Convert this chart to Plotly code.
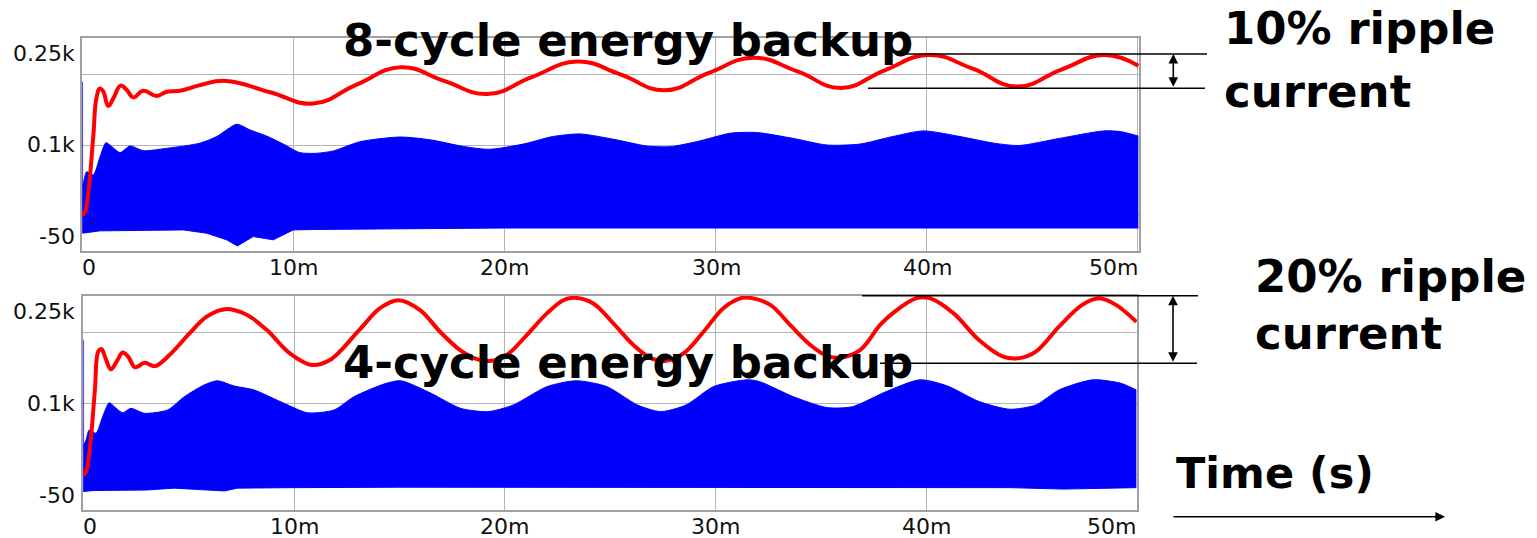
import plotly.graph_objects as go

W, H = 1537, 538

# ---------------- data (time in ms) ----------------
# Top panel: 8-cycle energy backup
top_red_t = [0, 0.13, 0.28, 0.52, 0.68, 0.84, 1.0, 1.23, 1.47, 1.82, 2.1, 2.42, 2.89, 3.53, 4.0, 4.63,
             5.58, 6.8, 8.9, 10.95, 13.0, 15.1, 17.15, 19.2, 21.3, 23.45, 25.5, 27.6, 29.7, 31.8,
             33.9, 35.95, 38.0, 40.1, 42.2, 44.3, 46.4, 48.45, 50.05]
top_red_v = [-49, -42, -2, 118, 202, 220, 213, 183, 199, 226, 217, 201, 215, 204, 213, 215,
             227, 236, 212, 188, 228, 265, 236, 208, 244, 277, 250, 216, 253, 285,
             256, 221, 258, 291, 262, 224, 260, 291, 268]

top_spike_v = [-87, 234]
top_blue_up_t = [0, 0.05, 0.21, 0.52, 0.84, 1.12, 1.39, 1.79, 2.26, 2.89, 4.0, 5.58, 6.37, 7.32,
                 7.95, 8.74, 9.53, 10.3, 11.1, 11.9, 13.16, 15.06, 16.5, 18.06, 19.3, 20.9, 22.3, 23.6,
                 25.2, 26.75, 27.85, 29.1, 30.7, 31.5, 32.1, 33.7, 35.3, 36.85, 38.4, 39.86, 41.6, 43.2,
                 44.4, 46.3, 48.4, 49.2, 50.05]
top_blue_up_v = [10, 19, 43.5, 36.5, 75, 105, 97, 84, 98, 88, 93, 104, 118, 144,
                 132, 119, 102, 84, 82.5, 87.5, 107, 117, 111, 97, 91, 102, 118, 123.5,
                 112, 98, 96.5, 107, 125, 127, 126, 114, 100, 102, 118, 130, 118, 104,
                 99, 114, 130, 128.5, 119]
top_blue_lo_t = [0, 0.84, 4.8, 5.9, 6.84, 7.35, 8.1, 9.05, 10.0, 11.1, 20, 30, 40, 50.05]
top_blue_lo_v = [-87, -82, -80, -87, -101, -114, -94, -101, -80, -79, -76, -76, -76, -76]

# Bottom panel: 4-cycle energy backup
bot_red_t = [0, 0.13, 0.32, 0.55, 0.71, 0.87, 1.03, 1.31, 1.58, 1.87,
             2.13, 2.45, 2.92, 3.4, 4.1, 5.05, 5.85, 6.72, 7.75, 8.7,
             9.8, 10.83, 11.7, 13.1, 14.08, 14.95, 15.98, 16.93, 17.88, 18.67,
             19.3, 20.1, 21.04, 22.0, 22.78, 23.34, 24.2, 25.15, 26.1, 26.9,
             27.6, 28.48, 29.43, 30.37, 31.17, 31.64, 32.6, 33.55, 34.5, 35.28,
             35.9, 36.86, 37.8, 38.4, 39.5, 40.2, 41.3, 42.5, 43.65, 44.4,
             45.2, 46.3, 47.4, 48.2, 49.0, 49.97]
bot_red_v = [-52, -45, 8, 128, 210, 215, 199, 172, 188.5, 208,
             199, 176.5, 186, 179, 203, 249, 284, 300, 288, 256,
             206, 181.5, 192, 256, 302, 319, 298, 252, 213, 194,
             190, 203, 245, 291, 319, 324, 312, 270, 224, 197,
             190, 206, 252, 302, 323, 324, 309, 266, 224, 201,
             197, 213, 266, 291, 323, 323, 291, 234.5, 199, 196,
             210, 263, 309, 323, 309, 273]

bot_spike_v = [-87, 234]
bot_blue_up_t = [0, 0.13, 0.28, 0.6, 0.92, 1.23, 1.47, 1.87, 2.26, 2.89, 4.0, 4.79, 5.73, 6.37,
                 7.15, 8.1, 9.53, 10.64, 11.9, 12.84, 14.27, 15.06, 16.5, 17.9, 19.2, 20.4, 22.0, 23.4,
                 24.85, 26.3, 27.4, 28.6, 29.9, 31.5, 32.1, 33.7, 35.3, 36.5, 38.1, 39.7, 41.0, 42.5,
                 43.97, 45.2, 46.3, 47.9, 49.2, 49.97]
bot_blue_up_v = [10, 22, 43.5, 36.5, 72, 101.5, 93, 80, 89.5, 79, 86, 114, 139, 148,
                 137, 128.5, 100, 80, 86, 114, 141, 148, 121.5, 89.5, 82.5, 96.5, 135.5, 148,
                 135.5, 96.5, 82.5, 96.5, 135.5, 150, 146, 114, 91, 93, 125, 150, 137, 104,
                 87.5, 96.5, 128.5, 150, 143, 128.5]
bot_blue_lo_t = [0, 0.5, 3, 4.3, 5.5, 6.7, 7.3, 8.6, 10, 15, 20, 25, 30, 35, 38, 40, 42, 44, 46.5, 47.5, 49.97]
bot_blue_lo_v = [-87, -85, -84, -80, -83, -86, -80, -79, -79, -78, -78, -78, -78, -79, -78, -79, -78,
                 -79, -82, -81, -79]

x_tick_vals = [0, 10, 20, 30, 40, 50]
x_tick_text = ["0", "10m", "20m", "30m", "40m", "50m"]
y_grid_vals = [250, 100, -50]
y_tick_text = ["0.25k", "0.1k", "-50"]

# ---------------- figure ----------------
RED = "#ff0000"
BLUE = "#0000ff"
GRID = "#b4b4b4"


def px(x):
    return x / W


def py(y):
    return 1 - y / H


fig = go.Figure()

panels = [
    ("x", "y", top_spike_v, top_blue_up_t, top_blue_up_v, top_blue_lo_t, top_blue_lo_v, top_red_t, top_red_v, 1.3),
    ("x2", "y2", bot_spike_v, bot_blue_up_t, bot_blue_up_v, bot_blue_lo_t, bot_blue_lo_v, bot_red_t, bot_red_v, 1.0),
]
for xa, ya, sv, ut, uv, lt, lv, rt, rv, sm in panels:
    # lower envelope of the high-frequency waveform
    fig.add_trace(go.Scatter(
        x=lt, y=lv, xaxis=xa, yaxis=ya, mode="lines",
        line=dict(color=BLUE, width=1), hoverinfo="skip", showlegend=False))
    # upper envelope, filled down to lower envelope
    fig.add_trace(go.Scatter(
        x=ut, y=uv, xaxis=xa, yaxis=ya, mode="lines", fill="tonexty", fillcolor=BLUE,
        line=dict(color=BLUE, width=1, shape="spline", smoothing=0.7),
        hoverinfo="skip", showlegend=False))
    # initial spike at t=0
    fig.add_trace(go.Scatter(
        x=[0, 0], y=sv, xaxis=xa, yaxis=ya, mode="lines",
        line=dict(color=BLUE, width=1.5), hoverinfo="skip", showlegend=False))
    # red current trace
    fig.add_trace(go.Scatter(
        x=rt, y=rv, xaxis=xa, yaxis=ya, mode="lines",
        line=dict(color=RED, width=4, shape="spline", smoothing=sm),
        showlegend=False))

axis_common = dict(showgrid=True, gridcolor=GRID, gridwidth=1, zeroline=False,
                   showline=True, linecolor="#a0a0a0", linewidth=1.5, mirror=True,
                   showticklabels=False, ticks="", automargin=False, fixedrange=True)

fig.update_layout(
    width=W, height=H,
    margin=dict(l=0, r=0, t=0, b=0),
    paper_bgcolor="white", plot_bgcolor="white",
    showlegend=False,
    xaxis=dict(domain=[px(82.3), px(1139)], range=[0, 50.08], tickvals=x_tick_vals,
               anchor="y", **axis_common),
    yaxis=dict(domain=[py(251), py(38.3)], range=[-124.7, 326.3], tickvals=y_grid_vals,
               anchor="x", **axis_common),
    xaxis2=dict(domain=[px(83.3), px(1137)], range=[0, 50.0], tickvals=x_tick_vals,
                anchor="y2", **axis_common),
    yaxis2=dict(domain=[py(510), py(296)], range=[-126.4, 327.9], tickvals=y_grid_vals,
                anchor="x2", **axis_common),
)

ann = []
tick_font = dict(family="DejaVu Sans", size=22, color="#111111")

# y tick labels (positions in pixels as drawn by the original tool)
for labels_y in ([53.3, 145, 236.7], [311.7, 403.3, 495]):
    for txt, yy in zip(y_tick_text, labels_y):
        ann.append(dict(x=px(77), y=py(yy), xref="paper", yref="paper", text=txt,
                        showarrow=False, xanchor="right", yanchor="middle", font=tick_font))

# x tick labels
for (x0, x1, ylab) in ((82.3, 1139, 267.5), (83.3, 1137, 526)):
    for v, txt in zip(x_tick_vals, x_tick_text):
        xp = x0 + (x1 - x0) * v / 50.0
        anchor = "center"
        if v == 0:
            anchor = "left"
            xp = x0 - 2
        elif v == 50:
            anchor = "right"
            xp = x1 + 1
        ann.append(dict(x=px(xp), y=py(ylab), xref="paper", yref="paper", text=txt,
                        showarrow=False, xanchor=anchor, yanchor="middle", font=tick_font))

big = dict(family="DejaVu Sans", size=45, color="black")
texts = [
    ("<b>8-cycle energy backup</b>", 341, 40, big),
    ("<b>4-cycle energy backup</b>", 341, 362.5, big),
    ("<b>10% ripple</b>", 1222, 28.3, big),
    ("<b>current</b>", 1222, 91.6, big),
    ("<b>20% ripple</b>", 1253, 276.7, big),
    ("<b>current</b>", 1253, 333.3, big),
    ("<b>Time (s)</b>", 1174, 473, dict(family="DejaVu Sans", size=43, color="black")),
]
for t, xx, yy, f in texts:
    ann.append(dict(x=px(xx), y=py(yy), xref="paper", yref="paper", text=t, showarrow=False,
                    xanchor="left", yanchor="middle", font=f))

# double arrows for ripple amplitude (tail offset in pixels)
for xa, y0, y1 in ((1173.3, 54, 88.3), (1173, 295.7, 363.3)):
    ann.append(dict(x=px(xa), y=py(y0), xref="paper", yref="paper",
                    ax=0, ay=(y1 - y0), axref="pixel", ayref="pixel",
                    text="", showarrow=True, arrowhead=2, arrowsize=1.2, arrowwidth=1.6,
                    arrowside="end+start", arrowcolor="black"))
# time arrow
ann.append(dict(x=px(1445), y=py(516.7), xref="paper", yref="paper",
                ax=(1172 - 1445), ay=0, axref="pixel", ayref="pixel",
                text="", showarrow=True, arrowhead=2, arrowsize=1.2, arrowwidth=1.6,
                arrowcolor="black"))

fig.update_layout(annotations=ann)

shapes = []
for (xs, xe, yy) in ((905, 1207, 54), (868, 1205, 88.3), (862, 1198, 295.7), (880, 1197, 363.3)):
    shapes.append(dict(type="line", xref="paper", yref="paper", x0=px(xs), x1=px(xe),
                       y0=py(yy), y1=py(yy), line=dict(color="black", width=1.6), layer="above"))
fig.update_layout(shapes=shapes)

fig.write_html("out.html", config={"displayModeBar": False},
               post_script="document.body.style.margin='0px';document.body.style.overflow='hidden';")
